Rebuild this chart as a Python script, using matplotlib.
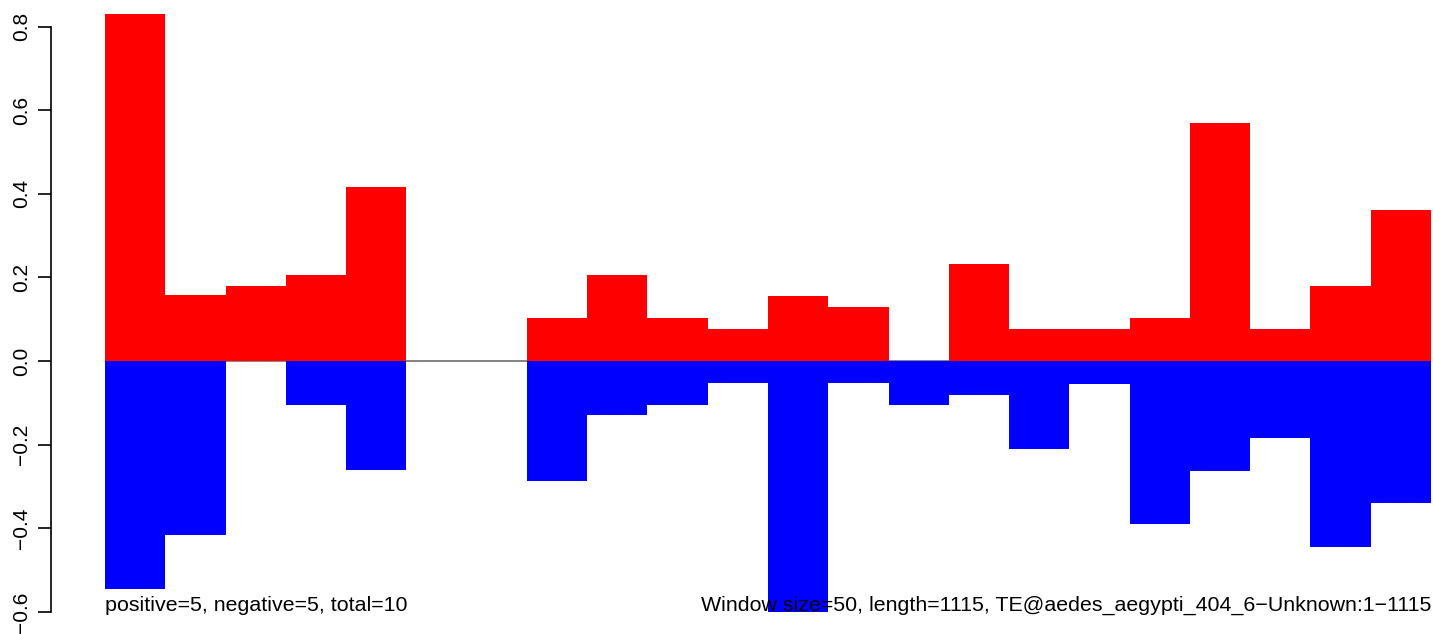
import numpy as np
import matplotlib.pyplot as plt

plt.rcParams['font.family'] = ['Liberation Sans', 'DejaVu Sans']

# one value per 50bp window
positive = [0.830, 0.157, 0.180, 0.206, 0.416, 0.0, 0.0, 0.103, 0.206, 0.103, 0.077,
            0.156, 0.129, 0.0, 0.232, 0.077, 0.077, 0.103, 0.569, 0.077, 0.179, 0.361]
negative = [-0.544, -0.415, 0.0, -0.105, -0.260, 0.0, 0.0, -0.287, -0.130, -0.105, -0.053,
            -0.600, -0.053, -0.105, -0.080, -0.210, -0.055, -0.390, -0.262, -0.184, -0.444, -0.340]
left_note = "positive=5, negative=5, total=10"
right_note = "Window size=50, length=1115, TE@aedes_aegypti_404_6\u2212Unknown:1\u22121115"

W, H = 1433, 634
fig = plt.figure(figsize=(W / 100, H / 100), dpi=100)
ax = fig.add_axes([105 / W, 0, 1326 / W, 1])

n = len(positive)
x = np.arange(n)
ax.axhline(0, color='#6e6e6e', lw=1.2, zorder=1)
ax.bar(x, positive, width=1.0, align='edge', color='#ff0000', linewidth=0, zorder=2)
ax.bar(x, negative, width=1.0, align='edge', color='#0000ff', linewidth=0, zorder=2)

ax.set_xlim(0, n)
ax.set_ylim(-0.6 - 22 / 418, 0.8 + 26.6 / 418)

for s in ['top', 'right', 'bottom']:
    ax.spines[s].set_visible(False)
ax.spines['left'].set_position(('data', -54 / 60.27))
ax.spines['left'].set_bounds(-0.6, 0.8)
ax.spines['left'].set_linewidth(1.2)
ax.set_xticks([])
ax.set_yticks([-0.6, -0.4, -0.2, 0.0, 0.2, 0.4, 0.6, 0.8])
ax.set_yticklabels(['\u22120.6', '\u22120.4', '\u22120.2', '0.0', '0.2', '0.4', '0.6', '0.8'])
ax.tick_params(axis='y', length=9.5, width=1.2, pad=5, labelsize=15)
for lab in ax.get_yticklabels():
    lab.set_rotation(90)
    lab.set_va('center')

ax.text(0, -0.585, left_note, ha='left', va='center', fontsize=15.4, zorder=3)
ax.text(n, -0.585, right_note, ha='right', va='center', fontsize=15.4, zorder=3)

fig.savefig('out.png', dpi=100)
